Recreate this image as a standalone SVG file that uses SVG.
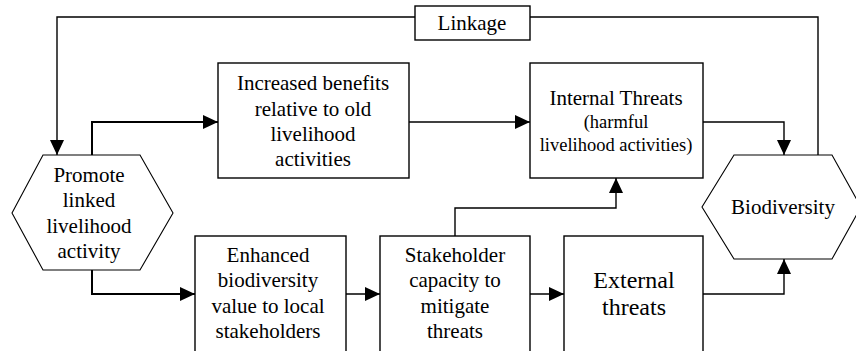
<svg xmlns="http://www.w3.org/2000/svg" width="856" height="351" viewBox="0 0 856 351">
<defs>
<style>
.box{fill:#fff;stroke:#000;stroke-width:1.4}
.hex{fill:#fff;stroke:#000;stroke-width:1.1}
text{font-family:'Liberation Serif','Times New Roman',serif;font-size:21px;fill:#000;text-anchor:middle}
.s{font-size:18.5px}
.b{font-size:24px}
.c{fill:none;stroke:#000;stroke-width:1.4}
.c2{fill:none;stroke:#000;stroke-width:2}
</style>
<marker id="ah" markerUnits="userSpaceOnUse" markerWidth="15" markerHeight="14" refX="15" refY="7" orient="auto">
<path d="M0,0 L15,7 L0,14 z" fill="#000"/>
</marker>
</defs>
<rect width="856" height="351" fill="#fff"/>
<g id="connectors">
<path class="c" d="M415,17 H57 V155" marker-end="url(#ah)"/>
<path class="c" d="M530,17 H818 V155"/>
<path class="c2" d="M92,155 V122 H218" marker-end="url(#ah)"/>
<path class="c2" d="M92,270 V294 H195" marker-end="url(#ah)"/>
<path class="c" d="M409,122 H530" marker-end="url(#ah)"/>
<path class="c" d="M703,122 H784 V155" marker-end="url(#ah)"/>
<path class="c" d="M346,294 H380" marker-end="url(#ah)"/>
<path class="c" d="M455,236 V208 H616 V178" marker-end="url(#ah)"/>
<path class="c" d="M530,294 H564" marker-end="url(#ah)"/>
<path class="c" d="M703,294 H784 V259" marker-end="url(#ah)"/>
</g>
<g id="linkage">
<rect class="box" x="415" y="6" width="115" height="34"/>
<text x="472" y="30">Linkage</text>
</g>
<g id="promote">
<polygon class="hex" points="43,155 140,155 173,213 140,270 43,270 12,213"/>
<text x="89" y="182">Promote</text>
<text x="89" y="207.3">linked</text>
<text x="89" y="232.6">livelihood</text>
<text x="89" y="257.9">activity</text>
</g>
<g id="increased">
<rect class="box" x="218" y="63" width="191" height="115"/>
<text x="313" y="90">Increased benefits</text>
<text x="313" y="115.5">relative to old</text>
<text x="313" y="141">livelihood</text>
<text x="313" y="166">activities</text>
</g>
<g id="internal">
<rect class="box" x="530" y="63" width="173" height="115"/>
<text x="616" y="105">Internal Threats</text>
<text class="s" x="616" y="128">(harmful</text>
<text class="s" x="616" y="151">livelihood activities)</text>
</g>
<g id="biodiversity">
<polygon class="hex" points="734,155 832,155 861,207 832,259 734,259 702,207"/>
<text x="783" y="214">Biodiversity</text>
</g>
<g id="enhanced">
<rect class="box" x="195" y="236" width="151" height="130"/>
<text x="268" y="262">Enhanced</text>
<text x="268" y="287.3">biodiversity</text>
<text x="268" y="313">value to local</text>
<text x="268" y="338.3">stakeholders</text>
</g>
<g id="stakeholder">
<rect class="box" x="380" y="236" width="150" height="130"/>
<text x="455" y="262">Stakeholder</text>
<text x="455" y="287.3">capacity to</text>
<text x="455" y="313">mitigate</text>
<text x="455" y="338.3">threats</text>
</g>
<g id="external">
<rect class="box" x="564" y="236" width="139" height="130"/>
<text class="b" x="634" y="288">External</text>
<text class="b" x="634" y="315">threats</text>
</g>
</svg>
